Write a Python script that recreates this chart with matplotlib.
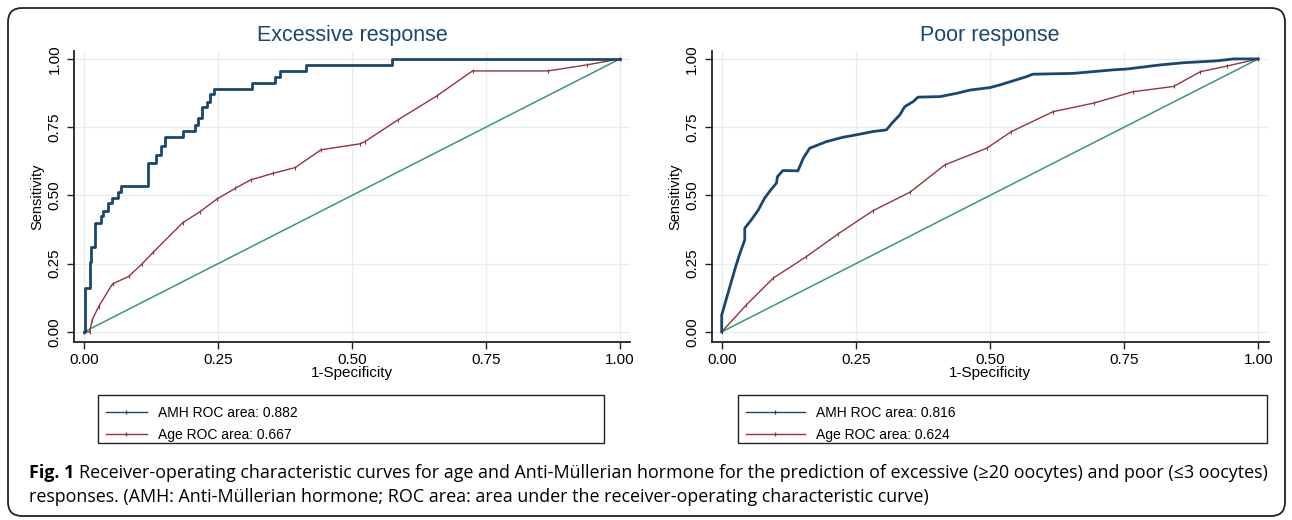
import matplotlib
matplotlib.use('Agg')
from matplotlib import pyplot as plt
from matplotlib.patches import FancyBboxPatch, Rectangle
from matplotlib.lines import Line2D
import matplotlib.transforms as mtransforms

plt.rcParams['font.family'] = ['Liberation Sans', 'DejaVu Sans']

# Excessive response: AMH (step curve, level after each jump)
exc_amh_x = [0, 0.002, 0.01, 0.013, 0.02, 0.031, 0.036, 0.044, 0.052, 0.063, 0.069,
             0.12, 0.134, 0.143, 0.151, 0.185, 0.207, 0.213, 0.22, 0.229, 0.235,
             0.243, 0.313, 0.356, 0.365, 0.415, 0.574, 1.0]
exc_amh_y = [0, 0.16, 0.257, 0.31, 0.40, 0.425, 0.444, 0.471, 0.49, 0.514, 0.535,
             0.62, 0.648, 0.681, 0.714, 0.737, 0.758, 0.783, 0.825, 0.844, 0.870,
             0.889, 0.913, 0.935, 0.957, 0.978, 1.0, 1.0]
# Excessive response: Age
exc_age_x = [0, 0.01, 0.015, 0.027, 0.053, 0.083, 0.108, 0.129, 0.184, 0.216, 0.248,
             0.282, 0.311, 0.353, 0.394, 0.442, 0.515, 0.524, 0.586, 0.658, 0.725,
             0.866, 0.938, 1.0]
exc_age_y = [0, 0, 0.044, 0.093, 0.176, 0.203, 0.249, 0.292, 0.40, 0.44, 0.487,
             0.526, 0.557, 0.581, 0.602, 0.667, 0.689, 0.697, 0.777, 0.864, 0.956,
             0.956, 0.978, 1.0]

# Poor response: AMH
poor_amh_x = [0, 0, 0.026, 0.034, 0.043, 0.043, 0.055, 0.068, 0.08, 0.089, 0.102,
              0.104, 0.114, 0.142, 0.152, 0.164, 0.195, 0.226, 0.251, 0.282, 0.307,
              0.317, 0.332, 0.341, 0.357, 0.366, 0.407, 0.438, 0.463, 0.50, 0.519,
              0.568, 0.580, 0.655, 0.73, 0.755, 0.817, 0.861, 0.923, 0.954, 1.0]
poor_amh_y = [0, 0.062, 0.239, 0.288, 0.337, 0.38, 0.41, 0.446, 0.49, 0.514, 0.545,
              0.569, 0.591, 0.59, 0.636, 0.673, 0.697, 0.713, 0.722, 0.734, 0.74,
              0.764, 0.795, 0.825, 0.844, 0.86, 0.862, 0.874, 0.886, 0.895, 0.905,
              0.935, 0.944, 0.947, 0.96, 0.963, 0.978, 0.986, 0.993, 1.0, 1.0]
# Poor response: Age
poor_age_x = [0, 0.046, 0.096, 0.158, 0.217, 0.282, 0.351, 0.416, 0.494, 0.54,
              0.618, 0.693, 0.767, 0.842, 0.892, 0.942, 1.0]
poor_age_y = [0, 0.099, 0.197, 0.276, 0.359, 0.444, 0.512, 0.612, 0.673, 0.734,
              0.807, 0.838, 0.88, 0.899, 0.953, 0.974, 1.0]

titles = ['Excessive response', 'Poor response']
amh_labels = ['AMH ROC area: 0.882', 'AMH ROC area: 0.816']
age_labels = ['Age ROC area: 0.667', 'Age ROC area: 0.624']
ticks = [0, 0.25, 0.5, 0.75, 1.0]
tick_labels = ['0.00', '0.25', '0.50', '0.75', '1.00']

blue = '#1a476f'
red = '#90353b'
teal = '#3a9483'
gridc = '#e4eef0'

W, H = 1292, 520
fig = plt.figure(figsize=(W / 100, H / 100), dpi=100)

# outer rounded frame, in pixel units
px = mtransforms.Affine2D().scale(1 / W, 1 / H) + fig.transFigure
frame = FancyBboxPatch((8, 4), 1277, 508, boxstyle='round,pad=0,rounding_size=14',
                       transform=px, fill=False, edgecolor='#222222', lw=1.3)
fig.patches.append(frame)

ax1 = fig.add_axes([74 / W, 1 - 342 / H, 556 / W, 291 / H])
ax2 = fig.add_axes([711.5 / W, 1 - 342 / H, 557 / W, 291 / H])

data = [(exc_amh_x, exc_amh_y, exc_age_x, exc_age_y, 'steps-post'),
        (poor_amh_x, poor_amh_y, poor_age_x, poor_age_y, 'default')]

for i, ax in enumerate([ax1, ax2]):
    ax_x, ax_y, ag_x, ag_y, ds = data[i]
    ax.plot([0, 1], [0, 1], color=teal, lw=1.1, zorder=2)
    ax.plot(ag_x, ag_y, color=red, lw=1.0, marker='|', ms=3, mew=0.8, zorder=3)
    ax.plot(ax_x, ax_y, color=blue, lw=2.0, drawstyle=ds, zorder=4)
    ax.set_xlim(-0.019, 1.019)
    ax.set_ylim(-0.037, 1.029)
    ax.set_xticks(ticks)
    ax.set_xticklabels(tick_labels)
    ax.set_yticks(ticks)
    ax.set_yticklabels(tick_labels, rotation=90, va='center')
    ax.tick_params(axis='both', labelsize=11, length=5, width=1, color='#222222',
                   direction='out', pad=3)
    ax.tick_params(axis='y', pad=4)
    ax.grid(True, color=gridc, lw=1.0)
    ax.set_axisbelow(True)
    for s in ['top', 'right']:
        ax.spines[s].set_visible(False)
    for s in ['left', 'bottom']:
        ax.spines[s].set_color('#222222')
        ax.spines[s].set_linewidth(1.3)
    ax.set_title(titles[i], color=blue, fontsize=15.5, pad=7)
    ax.set_xlabel('1-Specificity', fontsize=11, labelpad=-1)
    ax.set_ylabel('Sensitivity', fontsize=10.5, labelpad=2)

# legend boxes
leg_boxes = [(98, 395, 506, 48, 3.0), (738, 395, 529, 48, 4.3)]
for i, (lx, ly, lw_, lh, hl) in enumerate(leg_boxes):
    fig.patches.append(Rectangle((lx, H - ly - lh), lw_, lh, transform=px, fill=False,
                                 edgecolor='#222222', lw=1.0))
    handles = [Line2D([], [], color=blue, lw=1.0, marker='|', ms=3, markevery=[1]),
               Line2D([], [], color=red, lw=1.0, marker='|', ms=3, markevery=[1])]
    fig.legend(handles, [amh_labels[i], age_labels[i]], loc='center left',
               bbox_to_anchor=((lx + 2) / W, (H - ly - lh / 2 - 5) / H),
               frameon=False, fontsize=10, handlelength=hl, handletextpad=0.8,
               labelspacing=0.6, borderaxespad=0)

# caption
cap_font = ['Open Sans', 'DejaVu Sans']
cap_size = 12.85
t = fig.text(29 / W, 1 - 473 / H, 'Fig. 1', fontsize=cap_size, fontweight='bold',
             va='center', ha='left', family=cap_font)
fig.canvas.draw()
bb = t.get_window_extent(renderer=fig.canvas.get_renderer())
fig.text((bb.x1 + 5) / W, 1 - 473 / H,
         'Receiver-operating characteristic curves for age and Anti-Müllerian hormone for the '
         'prediction of excessive (≥20 oocytes) and poor (≤3 oocytes)',
         fontsize=cap_size, va='center', ha='left', family=cap_font)
fig.text(29 / W, 1 - 497 / H,
         'responses. (AMH: Anti-Müllerian hormone; ROC area: area under the receiver-operating '
         'characteristic curve)',
         fontsize=cap_size, va='center', ha='left', family=cap_font)

fig.savefig('out.png', dpi=100)
